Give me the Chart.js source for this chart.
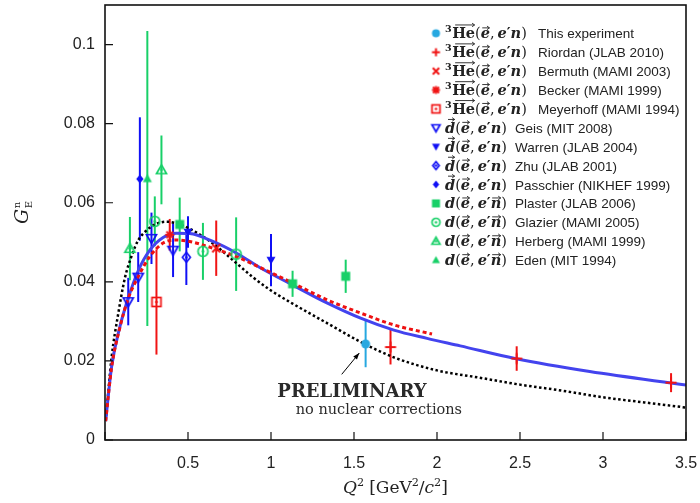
<!DOCTYPE html>
<html>
<head>
<meta charset="utf-8">
<script src="https://cdn.jsdelivr.net/npm/chart.js@4.4.1/dist/chart.umd.min.js"></script>
<style>
  html, body { margin: 0; padding: 0; background: #fff; }
  #wrap { width: 700px; height: 503px; }
</style>
</head>
<body>
<div id="wrap"><canvas id="chart" width="700" height="503"></canvas></div>
<script>
// ====== Data points ======
const thisX = [1.57], thisY = [0.0243], thisErr = [0.0059];
const riordanX = [1.72, 2.48, 3.41], riordanY = [0.0235, 0.0206, 0.0145], riordanErr = [0.0044, 0.0031, 0.0024];
const bermuthX = [0.67], bermuthY = [0.0485], bermuthErr = [0.0070];
const beckerX = [0.39], beckerY = [0.0519], beckerErr = [0.0040];
const meyerhoffX = [0.31], meyerhoffY = [0.0349], meyerhoffErr = [0.0133];
const geisX = [0.14, 0.20, 0.28, 0.41], geisY = [0.0350, 0.0412, 0.0510, 0.0480], geisErr = [0.0060, 0.0063, 0.0065, 0.0068];
const warrenX = [0.50, 1.00], warrenY = [0.0526, 0.0455], warrenErr = [0.0040, 0.0066];
const zhuX = [0.49], zhuY = [0.0462], zhuErr = [0.0070];
const passchierX = [0.21], passchierY = [0.0660], passchierErr = [0.0156];
const plasterX = [0.45, 1.13, 1.45], plasterY = [0.0545, 0.0395, 0.0414], plasterErr = [0.0068, 0.0033, 0.0042];
const glazierX = [0.30, 0.59, 0.79], glazierY = [0.0553, 0.0477, 0.0470], glazierErr = [0.0063, 0.0072, 0.0093];
const herbergX = [0.15, 0.34], herbergY = [0.0484, 0.0683], herbergErr = [0.0080, 0.0087];
const edenX = [0.255], edenY = [0.0661], edenErr = [0.0373];

// ====== Curves ======
const blueX = [0.004, 0.04, 0.09, 0.14, 0.20, 0.27, 0.35, 0.43, 0.51, 0.65, 0.79, 0.93, 1.13, 1.34, 1.54, 1.74, 1.94, 2.14, 2.47, 2.92, 3.50];
const blueY = [0.0048, 0.0186, 0.0287, 0.0359, 0.0428, 0.0480, 0.0512, 0.0523, 0.0522, 0.0502, 0.0473, 0.0437, 0.0392, 0.0346, 0.0308, 0.0278, 0.0257, 0.0238, 0.0206, 0.0173, 0.0139];
const redX = [0.004, 0.04, 0.09, 0.14, 0.20, 0.27, 0.35, 0.43, 0.51, 0.65, 0.79, 0.93, 1.13, 1.34, 1.54, 1.74, 1.97];
const redY = [0.0048, 0.0184, 0.0285, 0.0358, 0.0413, 0.0464, 0.0498, 0.0506, 0.0502, 0.0485, 0.0464, 0.0437, 0.0397, 0.0354, 0.0321, 0.0291, 0.0268];
const blackX = [0.004, 0.04, 0.08, 0.12, 0.16, 0.20, 0.25, 0.30, 0.37, 0.45, 0.55, 0.65, 0.77, 0.89, 1.00, 1.13, 1.34, 1.54, 1.74, 2.00, 2.25, 2.50, 2.75, 3.00, 3.25, 3.50];
const blackY = [0.0048, 0.0210, 0.0320, 0.0410, 0.0465, 0.0505, 0.0530, 0.0545, 0.0552, 0.0545, 0.0525, 0.0497, 0.0455, 0.0412, 0.0378, 0.0345, 0.0295, 0.0248, 0.0209, 0.0176, 0.0158, 0.0140, 0.0125, 0.0108, 0.0095, 0.0082];

// ====== Axis ticks ======
const xTicks = [0, 0.5, 1, 1.5, 2, 2.5, 3, 3.5];
const yTicks = [0, 0.02, 0.04, 0.06, 0.08, 0.1];

// ====== Legend labels ======
const legendLabels = [
  'This experiment', 'Riordan (JLAB 2010)', 'Bermuth (MAMI 2003)', 'Becker (MAMI 1999)',
  'Meyerhoff (MAMI 1994)', 'Geis (MIT 2008)', 'Warren (JLAB 2004)', 'Zhu (JLAB 2001)',
  'Passchier (NIKHEF 1999)', 'Plaster (JLAB 2006)', 'Glazier (MAMI 2005)', 'Herberg (MAMI 1999)',
  'Eden (MIT 1994)'
];

// ====== Colours ======
const CYAN = '#27a8e0', RED = '#f01414', BLUE = '#1010f5', GREEN = '#18d068';

// ====== Marker factory (small canvases used as pointStyle) ======
function marker(kind, color, s) {
  const n = Math.ceil(s + 5);
  const c = document.createElement('canvas');
  c.width = n; c.height = n;
  const g = c.getContext('2d');
  const m = n / 2, h = s / 2;
  g.strokeStyle = color; g.fillStyle = color; g.lineWidth = 1.7;
  const dot = () => { g.beginPath(); g.arc(m, m, 1.3, 0, Math.PI * 2); g.fill(); };
  const triUp = () => { g.beginPath(); g.moveTo(m, m - h); g.lineTo(m + h, m + h * 0.75); g.lineTo(m - h, m + h * 0.75); g.closePath(); };
  const triDown = () => { g.beginPath(); g.moveTo(m - h, m - h * 0.75); g.lineTo(m + h, m - h * 0.75); g.lineTo(m, m + h); g.closePath(); };
  const diamond = () => { g.beginPath(); g.moveTo(m, m - h); g.lineTo(m + h * 0.8, m); g.lineTo(m, m + h); g.lineTo(m - h * 0.8, m); g.closePath(); };
  g.beginPath();
  switch (kind) {
    case 'dot': g.arc(m, m, h, 0, Math.PI * 2); g.fill(); break;
    case 'plus':
      g.lineWidth = 2;
      g.moveTo(m - h, m); g.lineTo(m + h, m); g.moveTo(m, m - h); g.lineTo(m, m + h); g.stroke(); break;
    case 'cross':
      g.lineWidth = 2;
      g.moveTo(m - h * 0.8, m - h * 0.8); g.lineTo(m + h * 0.8, m + h * 0.8);
      g.moveTo(m + h * 0.8, m - h * 0.8); g.lineTo(m - h * 0.8, m + h * 0.8); g.stroke(); break;
    case 'star':
      g.lineWidth = 1.8;
      g.moveTo(m - h, m); g.lineTo(m + h, m); g.moveTo(m, m - h); g.lineTo(m, m + h);
      g.moveTo(m - h * 0.75, m - h * 0.75); g.lineTo(m + h * 0.75, m + h * 0.75);
      g.moveTo(m + h * 0.75, m - h * 0.75); g.lineTo(m - h * 0.75, m + h * 0.75); g.stroke(); break;
    case 'sqdot': g.strokeRect(m - h, m - h, s, s); dot(); break;
    case 'sqfill': g.fillRect(m - h, m - h, s, s); break;
    case 'tridown': triDown(); g.stroke(); break;
    case 'tridownfill': triDown(); g.fill(); break;
    case 'diadot': diamond(); g.stroke(); dot(); break;
    case 'diafill': diamond(); g.fill(); break;
    case 'circdot': g.arc(m, m, h, 0, Math.PI * 2); g.stroke(); dot(); break;
    case 'tridot': triUp(); g.stroke(); dot(); break;
    case 'trifill': triUp(); g.fill(); break;
  }
  return c;
}

// ====== Series definitions ======
const series = [
  { xs: thisX, ys: thisY, err: thisErr, color: CYAN, kind: 'dot', size: 9, react: 'he' },
  { xs: riordanX, ys: riordanY, err: riordanErr, color: RED, kind: 'plus', size: 11, react: 'he' },
  { xs: bermuthX, ys: bermuthY, err: bermuthErr, color: RED, kind: 'cross', size: 10, react: 'he' },
  { xs: beckerX, ys: beckerY, err: beckerErr, color: RED, kind: 'star', size: 9, react: 'he' },
  { xs: meyerhoffX, ys: meyerhoffY, err: meyerhoffErr, color: RED, kind: 'sqdot', size: 9, react: 'he' },
  { xs: geisX, ys: geisY, err: geisErr, color: BLUE, kind: 'tridown', size: 10, react: 'dpol' },
  { xs: warrenX, ys: warrenY, err: warrenErr, color: BLUE, kind: 'tridownfill', size: 9, react: 'dpol' },
  { xs: zhuX, ys: zhuY, err: zhuErr, color: BLUE, kind: 'diadot', size: 10, react: 'dpol' },
  { xs: passchierX, ys: passchierY, err: passchierErr, color: BLUE, kind: 'diafill', size: 9, react: 'dpol' },
  { xs: plasterX, ys: plasterY, err: plasterErr, color: GREEN, kind: 'sqfill', size: 9, react: 'npol' },
  { xs: glazierX, ys: glazierY, err: glazierErr, color: GREEN, kind: 'circdot', size: 10, react: 'npol' },
  { xs: herbergX, ys: herbergY, err: herbergErr, color: GREEN, kind: 'tridot', size: 10, react: 'npol' },
  { xs: edenX, ys: edenY, err: edenErr, color: GREEN, kind: 'trifill', size: 9, react: 'npol' }
];

const toPts = (xs, ys) => xs.map((x, i) => ({ x, y: ys[i] }));

const datasets = series.map((s, i) => ({
  label: legendLabels[i],
  data: toPts(s.xs, s.ys),
  err: s.err,
  errColor: s.color,
  pointStyle: marker(s.kind, s.color, s.size),
  showLine: false,
  order: 0
}));

datasets.push(
  { label: 'curve-blue', data: toPts(blueX, blueY), showLine: true, borderColor: '#4343ee', borderWidth: 3,
    pointRadius: 0, cubicInterpolationMode: 'monotone', order: 2 },
  { label: 'curve-red', data: toPts(redX, redY), showLine: true, borderColor: '#ee1111', borderWidth: 3,
    borderDash: [4, 3], pointRadius: 0, cubicInterpolationMode: 'monotone', order: 1 },
  { label: 'curve-black', data: toPts(blackX, blackY), showLine: true, borderColor: '#000', borderWidth: 2.5,
    borderDash: [2.5, 2.5], pointRadius: 0, cubicInterpolationMode: 'monotone', order: 3 }
);

// ====== Math text helper ======
function drawMath(ctx, x, y, parts, size, measureOnly) {
  const x0 = x;
  parts.forEach(p => {
    const fs = p.sup ? size * 0.66 : size;
    ctx.font = `${p.it ? 'italic ' : ''}${p.bold ? 'bold ' : ''}${fs}px "DejaVu Serif"`;
    const w = ctx.measureText(p.t).width;
    if (!measureOnly) {
      const yy = p.sup ? y - size * 0.42 : y;
      ctx.fillText(p.t, x, yy);
      if (p.vec) {
        const ya = y - size * (p.tall ? 0.92 : 0.72);
        const xa = x + (p.shift || 1.5), xb = x + w - 0.5;
        ctx.lineWidth = 0.9;
        ctx.beginPath();
        ctx.moveTo(xa, ya); ctx.lineTo(xb, ya);
        ctx.moveTo(xb - 2.5, ya - 1.8); ctx.lineTo(xb, ya); ctx.lineTo(xb - 2.5, ya + 1.8);
        ctx.stroke();
      }
    }
    x += w + (p.sp || 0);
  });
  return x - x0;
}

const REACT = {
  he: [{ t: '3', sup: 1, bold: 1, sp: 0.5 }, { t: 'He', bold: 1, vec: 1, tall: 1, shift: 3 }, { t: '(' },
       { t: 'e', it: 1, bold: 1, vec: 1 }, { t: ',', sp: 3 }, { t: 'e', it: 1, bold: 1 }, { t: '′', bold: 1 },
       { t: 'n', it: 1, bold: 1 }, { t: ')' }],
  dpol: [{ t: 'd', it: 1, bold: 1, vec: 1, tall: 1, shift: 3 }, { t: '(' }, { t: 'e', it: 1, bold: 1, vec: 1 },
         { t: ',', sp: 3 }, { t: 'e', it: 1, bold: 1 }, { t: '′', bold: 1 }, { t: 'n', it: 1, bold: 1 }, { t: ')' }],
  npol: [{ t: 'd', it: 1, bold: 1 }, { t: '(' }, { t: 'e', it: 1, bold: 1, vec: 1 },
         { t: ',', sp: 3 }, { t: 'e', it: 1, bold: 1 }, { t: '′', bold: 1 }, { t: 'n', it: 1, bold: 1, vec: 1 }, { t: ')' }]
};
const LABEL_X = { he: 538, dpol: 515, npol: 515 };

// ====== Plugin: error bars ======
const errorBars = {
  id: 'errorBars',
  beforeDatasetsDraw(chart) {
    const { ctx, scales: { x, y } } = chart;
    ctx.save();
    chart.data.datasets.forEach(ds => {
      if (!ds.err) return;
      ctx.strokeStyle = ds.errColor;
      ctx.lineWidth = 2;
      ds.data.forEach((p, i) => {
        const px = x.getPixelForValue(p.x);
        ctx.beginPath();
        ctx.moveTo(px, y.getPixelForValue(p.y - ds.err[i]));
        ctx.lineTo(px, y.getPixelForValue(p.y + ds.err[i]));
        ctx.stroke();
      });
    });
    ctx.restore();
  }
};

// ====== Plugin: frame, inner ticks, titles, legend, notes ======
const decorations = {
  id: 'decorations',
  afterDraw(chart) {
    const { ctx, chartArea: a, scales: { x, y } } = chart;
    ctx.save();
    // frame
    ctx.strokeStyle = '#111';
    ctx.lineWidth = 1.6;
    ctx.strokeRect(a.left, a.top, a.right - a.left, a.bottom - a.top);
    // inner ticks
    ctx.beginPath();
    xTicks.forEach(v => { const px = x.getPixelForValue(v); ctx.moveTo(px, a.bottom); ctx.lineTo(px, a.bottom - 8); });
    yTicks.forEach(v => { const py = y.getPixelForValue(v); ctx.moveTo(a.left, py); ctx.lineTo(a.left + 8, py); });
    ctx.lineWidth = 1.2;
    ctx.stroke();

    ctx.fillStyle = '#222';
    ctx.strokeStyle = '#222';
    ctx.textBaseline = 'alphabetic';
    ctx.textAlign = 'left';

    // x title
    const xt = [{ t: 'Q', it: 1 }, { t: '2', sup: 1, sp: 5 }, { t: '[GeV' }, { t: '2', sup: 1 }, { t: '/' },
                { t: 'c', it: 1 }, { t: '2', sup: 1 }, { t: ']' }];
    const xw = drawMath(ctx, 0, 0, xt, 17, true);
    drawMath(ctx, (a.left + a.right) / 2 - xw / 2, 493, xt, 17);

    // y title (rotated)
    ctx.save();
    ctx.translate(28, 224);
    ctx.rotate(-Math.PI / 2);
    ctx.font = 'italic 19px "DejaVu Serif"';
    ctx.fillText('G', 0, 0);
    const gw = ctx.measureText('G').width;
    ctx.font = '10px "DejaVu Serif"';
    ctx.fillText('E', gw + 0.5, 4);
    ctx.fillText('n', gw + 0.5, -8);
    ctx.restore();

    // legend
    series.forEach((s, i) => {
      const ly = 33.3 + i * 18.9;
      const mk = marker(s.kind, s.color, Math.min(s.size, 9) - 1);
      ctx.drawImage(mk, 436 - mk.width / 2, ly - mk.height / 2);
      ctx.fillStyle = '#222';
      ctx.strokeStyle = '#222';
      drawMath(ctx, 445, ly + 5, REACT[s.react], 14.5);
      ctx.font = '13.5px "Liberation Sans"';
      ctx.fillText(legendLabels[i], LABEL_X[s.react], ly + 5);
    });

    // preliminary note with arrow
    ctx.fillStyle = '#2a2a2a';
    ctx.strokeStyle = '#000';
    ctx.textAlign = 'center';
    ctx.font = 'bold 18px "DejaVu Serif"';
    ctx.fillText('PRELIMINARY', x.getPixelForValue(1.488), y.getPixelForValue(0.0110));
    ctx.font = '14.5px "DejaVu Serif"';
    ctx.fillText('no nuclear corrections', x.getPixelForValue(1.650), y.getPixelForValue(0.0067));
    const ax0 = x.getPixelForValue(1.426), ay0 = y.getPixelForValue(0.0166);
    const ax1 = x.getPixelForValue(1.532), ay1 = y.getPixelForValue(0.0220);
    const ang = Math.atan2(ay1 - ay0, ax1 - ax0);
    ctx.lineWidth = 1;
    ctx.beginPath();
    ctx.moveTo(ax0, ay0); ctx.lineTo(ax1, ay1); ctx.stroke();
    ctx.beginPath();
    ctx.moveTo(ax1, ay1);
    ctx.lineTo(ax1 - 7 * Math.cos(ang - 0.35), ay1 - 7 * Math.sin(ang - 0.35));
    ctx.lineTo(ax1 - 7 * Math.cos(ang + 0.35), ay1 - 7 * Math.sin(ang + 0.35));
    ctx.closePath();
    ctx.fillStyle = '#000';
    ctx.fill();
    ctx.restore();
  }
};

// ====== Chart ======
new Chart(document.getElementById('chart'), {
  type: 'scatter',
  data: { datasets },
  options: {
    responsive: false,
    animation: false,
    events: [],
    devicePixelRatio: 1,
    layout: { padding: { top: 4, right: 14, left: 0, bottom: 0 } },
    plugins: { legend: { display: false }, tooltip: { enabled: false } },
    scales: {
      x: {
        type: 'linear', min: 0, max: 3.5,
        grid: { display: false, drawTicks: false }, border: { display: false },
        afterBuildTicks: s => { s.ticks = xTicks.map(v => ({ value: v })); },
        ticks: {
          padding: 14, color: '#222', maxRotation: 0, autoSkip: false,
          font: { family: 'Liberation Sans', size: 16 },
          callback: v => (v === 0 ? '' : String(v))
        },
        afterFit: s => { s.height = 63; s.paddingLeft = 0; s.paddingRight = 0; }
      },
      y: {
        type: 'linear', min: 0, max: 0.11,
        grid: { display: false, drawTicks: false }, border: { display: false },
        afterBuildTicks: s => { s.ticks = yTicks.map(v => ({ value: v })); },
        ticks: {
          padding: 10, color: '#222',
          font: { family: 'Liberation Sans', size: 16 },
          callback: v => String(+v.toFixed(2))
        },
        afterFit: s => { s.width = 105; s.paddingTop = 0; s.paddingBottom = 0; }
      }
    }
  },
  plugins: [errorBars, decorations]
});
</script>
</body>
</html>
